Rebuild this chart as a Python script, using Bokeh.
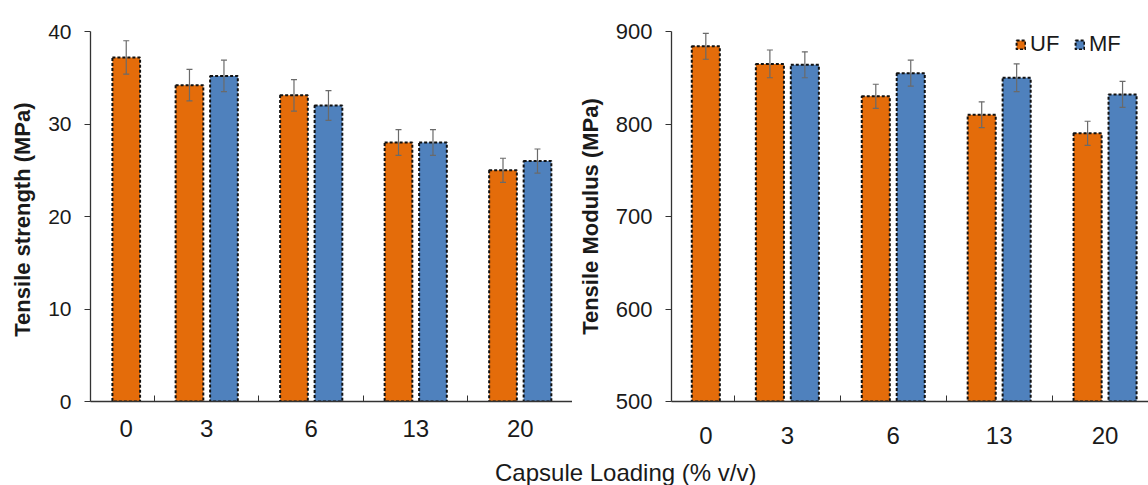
from bokeh.plotting import figure
from bokeh.models import (ColumnDataSource, FixedTicker, SingleIntervalTicker, Whisker,
                          TeeHead, Range1d, Legend, LegendItem, Div)
from bokeh.layouts import row, column
from bokeh.embed import file_html
from bokeh.resources import INLINE

# ---------------- data ----------------
loading = ["0", "3", "6", "13", "20"]          # capsule loading (% v/v)
ts_uf = [37.2, 34.2, 33.1, 28.0, 25.0]          # tensile strength, UF (MPa)
ts_uf_err = [1.8, 1.7, 1.7, 1.4, 1.3]
ts_mf = [None, 35.2, 32.0, 28.0, 26.0]          # tensile strength, MF (MPa)
ts_mf_err = [None, 1.7, 1.6, 1.4, 1.3]
mod_uf = [884, 865, 830, 810, 790]              # tensile modulus, UF (MPa)
mod_uf_err = [14, 15, 13, 14, 13]
mod_mf = [None, 864, 855, 850, 832]             # tensile modulus, MF (MPa)
mod_mf_err = [None, 14, 14, 15, 14]

# ---------------- style ----------------
FONT = "Liberation Sans"
UF_COLOR = "#E46C0A"
MF_COLOR = "#4F81BD"
EDGE = "#111111"
ERR = "#6a6a6a"
AXIS = "#333333"
TXT = "#1a1a1a"

LONE_SHIFT = 0.23    # single-bar group sits closer to the next group
OFF = 0.165          # half distance between paired bar centres
BAR_W = 0.265


def positions(mf_vals):
    centers, ux, mx = [], [], []
    for i, v in enumerate(mf_vals):
        if v is None:
            c = i + LONE_SHIFT
            centers.append(c)
            ux.append(c)
        else:
            c = float(i)
            centers.append(c)
            ux.append(c - OFF)
            mx.append(c + OFF)
    return centers, ux, mx


def panel(uf, uf_err, mf, mf_err, width, height, x_start, x_end, y0, y1, step,
          border_left, border_top, border_bottom, ylabel, ytick_size, xlab_standoff):
    centers, ux, mx = positions(mf)
    p = figure(width=width, height=height, output_backend="svg", toolbar_location=None,
               x_range=Range1d(x_start, x_end), y_range=Range1d(y0, y1),
               min_border_left=border_left, min_border_right=0,
               min_border_top=border_top, min_border_bottom=border_bottom)
    p.outline_line_color = None
    p.xgrid.visible = False
    p.ygrid.visible = False
    p.background_fill_color = "white"
    p.border_fill_color = "white"

    src_uf = ColumnDataSource(dict(x=ux, top=uf,
                                   upper=[v + e for v, e in zip(uf, uf_err)],
                                   lower=[v - e for v, e in zip(uf, uf_err)]))
    mf_v = [v for v in mf if v is not None]
    mf_e = [e for e in mf_err if e is not None]
    src_mf = ColumnDataSource(dict(x=mx, top=mf_v,
                                   upper=[v + e for v, e in zip(mf_v, mf_e)],
                                   lower=[v - e for v, e in zip(mf_v, mf_e)]))

    r_uf = p.vbar(x="x", top="top", bottom=y0, width=BAR_W, source=src_uf,
                  fill_color=UF_COLOR, line_color=EDGE, line_dash="3 2", line_width=2)
    r_mf = p.vbar(x="x", top="top", bottom=y0, width=BAR_W, source=src_mf,
                  fill_color=MF_COLOR, line_color=EDGE, line_dash="3 2", line_width=2)

    for src in (src_uf, src_mf):
        w = Whisker(base="x", upper="upper", lower="lower", source=src, level="overlay",
                    line_color=ERR, line_width=1.2,
                    upper_head=TeeHead(size=6, line_color=ERR, line_width=1.2),
                    lower_head=TeeHead(size=6, line_color=ERR, line_width=1.2))
        p.add_layout(w)

    bounds = [i + 0.5 for i in range(len(loading))]
    p.xaxis.ticker = FixedTicker(ticks=centers, minor_ticks=bounds)
    p.xaxis.major_label_overrides = {c: lab for c, lab in zip(centers, loading)}
    p.xaxis.major_tick_in = 0
    p.xaxis.major_tick_out = 0
    p.xaxis.minor_tick_in = 6
    p.xaxis.minor_tick_out = 0
    p.xaxis.minor_tick_line_color = AXIS
    p.xaxis.axis_line_color = AXIS
    p.xaxis.axis_line_width = 1.3
    p.xaxis.major_label_text_font = FONT
    p.xaxis.major_label_text_font_size = "24px"
    p.xaxis.major_label_text_color = TXT
    p.xaxis.major_label_standoff = xlab_standoff

    p.yaxis.ticker = SingleIntervalTicker(interval=step, num_minor_ticks=0)
    p.yaxis.major_tick_in = 0
    p.yaxis.major_tick_out = 6
    p.yaxis.minor_tick_out = 0
    p.yaxis.major_tick_line_color = AXIS
    p.yaxis.axis_line_color = AXIS
    p.yaxis.axis_line_width = 1.3
    p.yaxis.major_label_text_font = FONT
    p.yaxis.major_label_text_font_size = ytick_size
    p.yaxis.major_label_text_color = TXT
    p.yaxis.major_label_standoff = 13
    p.yaxis.axis_label = ylabel
    p.yaxis.axis_label_text_font = FONT
    p.yaxis.axis_label_text_font_size = "22px"
    p.yaxis.axis_label_text_font_style = "bold"
    p.yaxis.axis_label_text_color = TXT
    p.yaxis.axis_label_standoff = 10
    return p, r_uf, r_mf


H = 455
p1, _, _ = panel(ts_uf, ts_uf_err, ts_mf, ts_mf_err, 572, H, -0.112, 4.5, 0, 40, 10,
                 90, 24, H - 401, "Tensile strength  (MPa)", "21px", 18)
p2, r_uf, r_mf = panel(mod_uf, mod_uf_err, mod_mf, mod_mf_err, 1148 - 572, H, -0.094, 4.41,
                       500, 900, 100, 99, 31, H - 403, "Tensile Modulus (MPa)", "22px", 25)

legend = Legend(items=[LegendItem(label="UF", renderers=[r_uf]),
                       LegendItem(label="MF", renderers=[r_mf])],
                orientation="horizontal", location=(344, 344),
                glyph_width=11, glyph_height=11, label_standoff=4, spacing=14,
                label_height=26, label_width=30,
                padding=0, margin=0, border_line_color=None, background_fill_alpha=0,
                label_text_font=FONT, label_text_font_size="22px", label_text_color=TXT)
p2.add_layout(legend)

xtitle = Div(text='<div style="margin-left:490px;font-family:\'Liberation Sans\',Arial,sans-serif;'
                  'font-size:24px;line-height:26px;color:#1a1a1a;white-space:nowrap;">'
                  'Capsule Loading (% v/v)</div>',
             width=1148, height=485 - H)

layout = column(row(p1, p2), xtitle)
open("out.html", "w").write(file_html(layout, INLINE))
